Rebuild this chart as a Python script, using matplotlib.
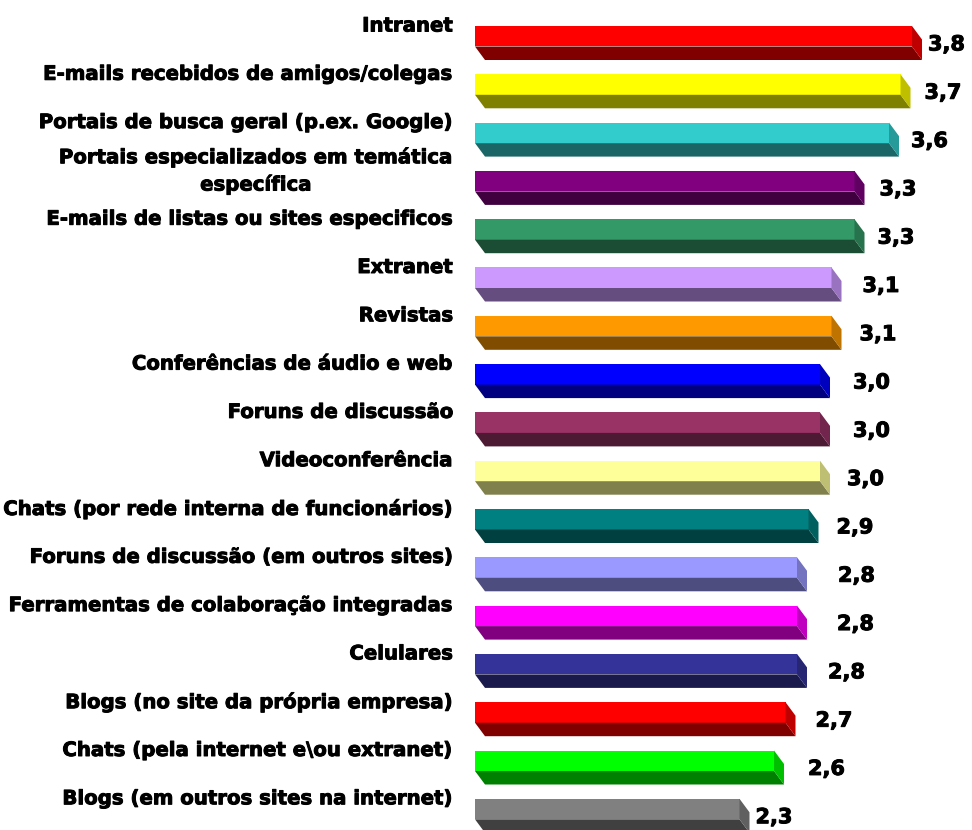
import matplotlib.pyplot as plt
import matplotlib.patheffects as pe
from matplotlib.patches import Polygon
from matplotlib.colors import to_rgb

labels = [
    "Intranet",
    "E-mails recebidos de amigos/colegas",
    "Portais de busca geral (p.ex. Google)",
    "Portais especializados em temática\nespecífica",
    "E-mails de listas ou sites especificos",
    "Extranet",
    "Revistas",
    "Conferências de áudio e web",
    "Foruns de discussão",
    "Videoconferência",
    "Chats (por rede interna de funcionários)",
    "Foruns de discussão (em outros sites)",
    "Ferramentas de colaboração integradas",
    "Celulares",
    "Blogs (no site da própria empresa)",
    "Chats (pela internet e\\ou extranet)",
    "Blogs (em outros sites na internet)",
]
values = [3.8, 3.7, 3.6, 3.3, 3.3, 3.1, 3.1, 3.0, 3.0, 3.0, 2.9, 2.8, 2.8, 2.8, 2.7, 2.6, 2.3]
colors = ["#FF0000", "#FFFF00", "#33CCCC", "#800080", "#339966", "#CC99FF", "#FF9900",
          "#0000FF", "#993366", "#FFFF99", "#008080", "#9999FF", "#FF00FF", "#333399",
          "#FF0000", "#00FF00", "#808080"]
# hand-placed value labels in the original: gap after bar, in px
label_gap = [6, 14, 12, 15, 13, 21, 18, 23, 23, 17, 18, 31, 30, 21, 20, 24, 6]


def shade(c, f):
    r, g, b = to_rgb(c)
    return (r * f, g * f, b * f)


W, H = 972, 830
fig = plt.figure(figsize=(W / 100, H / 100), dpi=100)
# one x unit = 115 px, one row = 48.3 px
px_x, px_y = 115.0, 48.3
x0, y0 = 475, 26
ax = fig.add_axes([x0 / W, 0, (W - x0) / W, 1])
ax.set_xlim(0, (W - x0) / px_x)
ax.set_ylim((H - y0) / px_y, -y0 / px_y)
ax.axis("off")

hf = 20.5 / px_y   # front face height
dx = 10 / px_x     # depth offset
dy = 13.5 / px_y
heavy = [pe.withStroke(linewidth=0.7, foreground="black")]

for i, (lab, v, c) in enumerate(zip(labels, values, colors)):
    ax.add_patch(Polygon([(0, i), (v, i), (v, i + hf), (0, i + hf)], closed=True,
                         facecolor=c, edgecolor="none"))
    ax.add_patch(Polygon([(0, i + hf), (v, i + hf), (v + dx, i + hf + dy), (dx, i + hf + dy)],
                         closed=True, facecolor=shade(c, 0.5), edgecolor="none"))
    ax.add_patch(Polygon([(v, i), (v + dx, i + dy), (v + dx, i + hf + dy), (v, i + hf)],
                         closed=True, facecolor=shade(c, 0.75), edgecolor="none"))
    ax.text(-22 / px_x, i, lab, ha="right", va="center", multialignment="center",
            fontsize=14.2, fontweight="bold", linespacing=1.5, clip_on=False,
            path_effects=heavy)
    ax.text(v + dx + label_gap[i] / px_x, i + (hf + dy) / 2 + 0.03, f"{v:.1f}".replace(".", ","),
            ha="left", va="center", fontsize=15, fontweight="bold", clip_on=False,
            path_effects=heavy)

fig.savefig("out.png", dpi=100)
